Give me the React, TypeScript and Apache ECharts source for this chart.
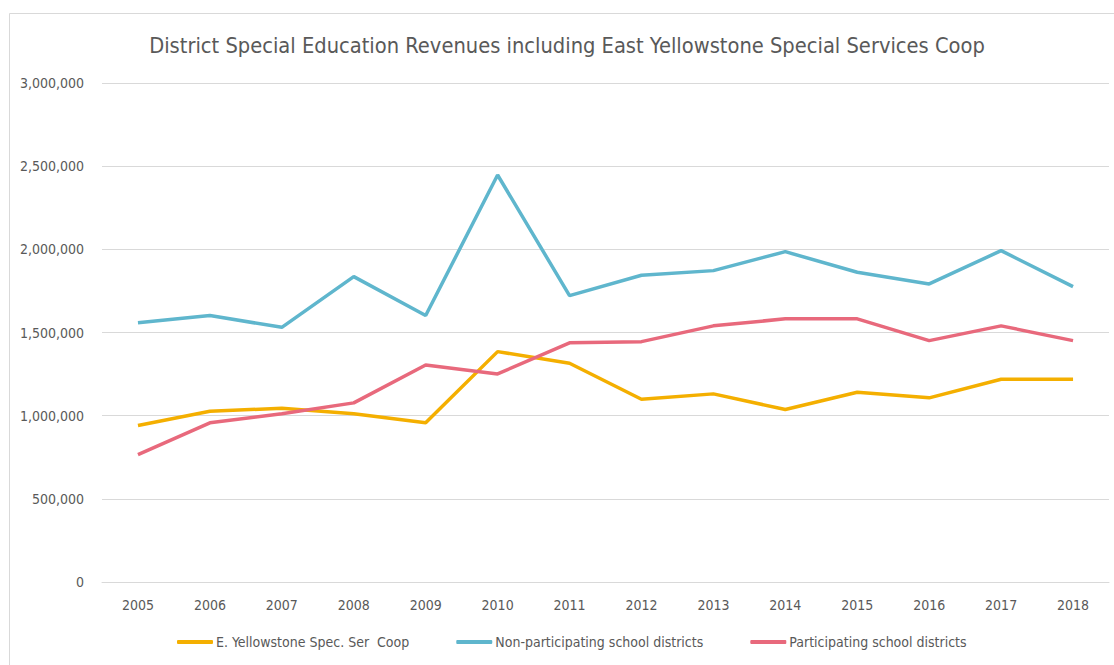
import React, { useEffect, useRef } from "react";
import * as echarts from "echarts";

const years = ["2005","2006","2007","2008","2009","2010","2011","2012","2013","2014","2015","2016","2017","2018"];
const coop = [941000, 1026000, 1045000, 1011000, 957000, 1385000, 1315000, 1099000, 1131000, 1037000, 1141000, 1107000, 1219000, 1219000];
const nonParticipating = [1558000, 1602000, 1531000, 1836000, 1602000, 2447000, 1722000, 1844000, 1872000, 1986000, 1862000, 1792000, 1992000, 1776000];
const participating = [766000, 957000, 1011000, 1077000, 1305000, 1251000, 1438000, 1445000, 1540000, 1582000, 1582000, 1451000, 1540000, 1451000];
const seriesNames = ["E. Yellowstone Spec. Ser  Coop", "Non-participating school districts", "Participating school districts"];

const FONT = "'DejaVu Sans Condensed', 'DejaVu Sans', sans-serif";
const TEXT = "#595959";

export default function App() {
  const ref = useRef<HTMLDivElement>(null);
  useEffect(() => {
    if (!ref.current) return;
    const chart = echarts.init(ref.current, null, { renderer: "svg" });
    const fmt = (v: number) => v.toLocaleString("en-US");
    chart.setOption({
      animation: false,
      backgroundColor: "#ffffff",
      textStyle: { fontFamily: FONT, color: TEXT },
      title: {
        text: "District Special Education Revenues including East Yellowstone Special Services Coop",
        left: 562,
        textAlign: "center",
        top: 29,
        textStyle: { fontFamily: FONT, fontSize: 21.7, fontWeight: "normal", color: TEXT },
      },
      graphic: [
        { type: "line", shape: { x1: 9.5, y1: 13.5, x2: 1114, y2: 13.5 }, style: { stroke: "#d9d9d9", lineWidth: 1 } },
        { type: "line", shape: { x1: 9.5, y1: 13.5, x2: 9.5, y2: 665 }, style: { stroke: "#d9d9d9", lineWidth: 1 } },
      ],
      legend: {
        top: 630,
        left: 172,
        itemWidth: 36,
        itemHeight: 4,
        itemGap: 47,
        icon: "roundRect",
        textStyle: { fontFamily: FONT, fontSize: 14, color: TEXT, padding: [0, 0, 0, -2] },
        data: seriesNames,
      },
      grid: { left: 102, right: 5, top: 83, bottom: 83 },
      xAxis: {
        type: "category",
        data: years,
        boundaryGap: true,
        axisLine: { lineStyle: { color: "#d9d9d9", width: 1 } },
        axisTick: { show: false },
        axisLabel: { fontFamily: FONT, fontSize: 14, color: TEXT, margin: 16 },
      },
      yAxis: {
        type: "value",
        min: 0,
        max: 3000000,
        interval: 500000,
        axisLine: { show: false },
        axisTick: { show: false },
        splitLine: { lineStyle: { color: "#d9d9d9", width: 1 } },
        axisLabel: { fontFamily: FONT, fontSize: 14, color: TEXT, margin: 18, formatter: fmt },
      },
      series: [
        { name: seriesNames[0], type: "line", data: coop, color: "#F4AF00", symbol: "none", lineStyle: { width: 3.5, color: "#F4AF00" } },
        { name: seriesNames[1], type: "line", data: nonParticipating, color: "#5FB6CD", symbol: "none", lineStyle: { width: 3.5, color: "#5FB6CD" } },
        { name: seriesNames[2], type: "line", data: participating, color: "#E8697C", symbol: "none", lineStyle: { width: 3.5, color: "#E8697C" } },
      ],
    });
    return () => chart.dispose();
  }, []);
  return (
    <div style={{ position: "fixed", left: 0, top: 0, width: 1114, height: 665, background: "#fff" }}>
      <div ref={ref} style={{ width: 1114, height: 665 }} />
    </div>
  );
}
